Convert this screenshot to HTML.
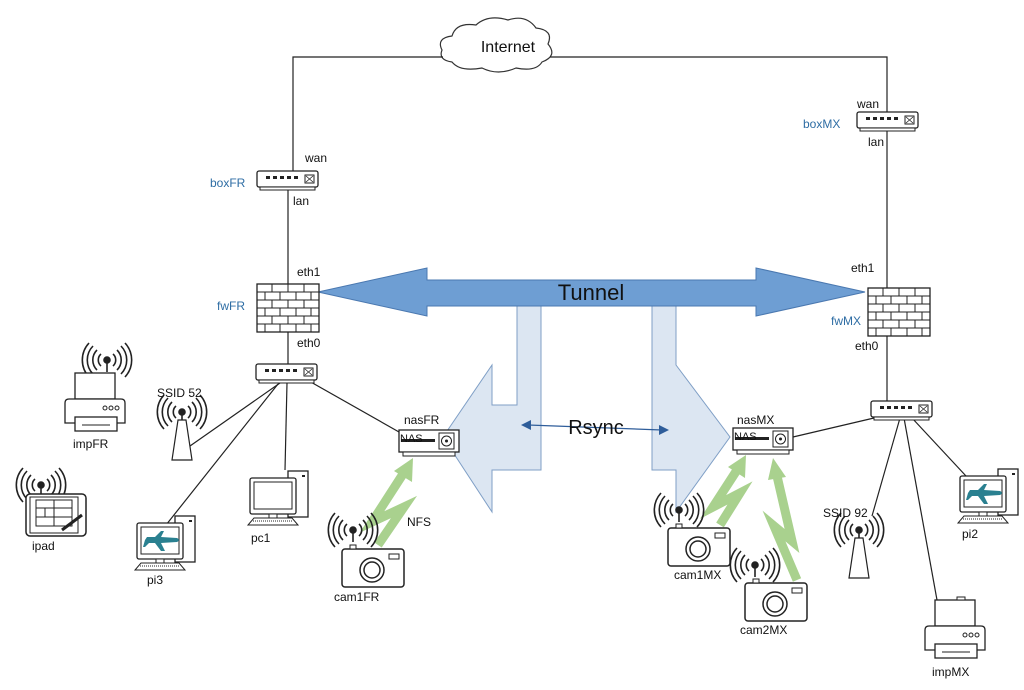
<!DOCTYPE html>
<html><head><meta charset="utf-8"><style>
html,body{margin:0;padding:0;background:#fff}
svg{display:block}
text{font-family:"Liberation Sans","DejaVu Sans",sans-serif;font-size:12px;fill:#111}
.b{fill:#2e6da4}
</style></head><body>
<svg width="1024" height="690" viewBox="0 0 1024 690" xmlns="http://www.w3.org/2000/svg">
<defs>
<g id="sw">
<rect x="0" y="0" width="61" height="16" rx="2" fill="#fff" stroke="#222" stroke-width="1.3"/>
<rect x="3" y="16" width="55" height="3" fill="#fff" stroke="#222" stroke-width="1"/>
<g fill="#222"><rect x="9" y="5" width="4" height="3"/><rect x="16" y="5" width="4" height="3"/><rect x="23" y="5" width="4" height="3"/><rect x="30" y="5" width="4" height="3"/><rect x="37" y="5" width="4" height="3"/></g>
<rect x="48" y="4" width="9" height="8" fill="none" stroke="#222"/><path d="M49 5 L56 11 M49 11 L56 5" stroke="#222" stroke-width="0.8"/>
</g>
<g id="fw">
<rect x="0" y="0" width="62" height="48" fill="#fff" stroke="#222" stroke-width="1.3"/>
<path d="M0 8H62M0 16H62M0 24H62M0 32H62M0 40H62" stroke="#222"/>
<path d="M15 0V8M31 0V8M47 0V8M8 8V16M23 8V16M39 8V16M54 8V16M15 16V24M31 16V24M47 16V24M8 24V32M23 24V32M39 24V32M54 24V32M15 32V40M31 32V40M47 32V40M8 40V48M23 40V48M39 40V48M54 40V48" stroke="#222"/>
</g>
<g id="wifi" fill="none" stroke="#222" stroke-width="1.6">
<path d="M-6 -6 A8 8 0 0 0 -6 6 M6 -6 A8 8 0 0 1 6 6"/>
<path d="M-10 -10 A14 14 0 0 0 -10 10 M10 -10 A14 14 0 0 1 10 10"/>
<path d="M-14 -14 A20 20 0 0 0 -14 14 M14 -14 A20 20 0 0 1 14 14"/>
<path d="M-18 -17 A25 25 0 0 0 -18 17 M18 -17 A25 25 0 0 1 18 17"/>
<circle cx="0" cy="0" r="3" fill="#222"/><path d="M0 0V12"/>
</g>
<g id="cam">
<rect x="0" y="0" width="62" height="38" rx="3" fill="#fff" stroke="#222" stroke-width="1.5"/>
<rect x="47" y="5" width="10" height="5" fill="none" stroke="#222"/>
<circle cx="30" cy="21" r="12" fill="none" stroke="#222" stroke-width="1.5"/>
<circle cx="30" cy="21" r="8" fill="none" stroke="#222" stroke-width="1.5"/>
<rect x="8" y="-4" width="6" height="4" fill="#fff" stroke="#222"/>
</g>
<g id="nas">
<rect x="0" y="0" width="60" height="22" fill="#fff" stroke="#222" stroke-width="1.3"/>
<rect x="4" y="22" width="52" height="4" fill="#fff" stroke="#222"/>
<rect x="40" y="3" width="15" height="16" fill="none" stroke="#222"/>
<circle cx="47.5" cy="11" r="5" fill="none" stroke="#222"/><circle cx="47.5" cy="11" r="1.5" fill="#222"/>
<rect x="2" y="9" width="34" height="3" fill="#222"/>
<text x="1" y="12" style="font-size:11px">NAS</text>
</g>
<g id="comp">
<rect x="38" y="-7" width="20" height="46" fill="#fff" stroke="#222" stroke-width="1.3"/>
<rect x="52" y="-3" width="3" height="2" fill="#222"/>
<rect x="0" y="0" width="46" height="36" rx="2" fill="#fff" stroke="#222" stroke-width="1.3"/>
<rect x="4" y="4" width="38" height="27" fill="#fff" stroke="#222"/>
<rect x="19" y="36" width="8" height="4" fill="#fff" stroke="#222"/>
<path d="M4 40H42L48 47H-2Z" fill="#fff" stroke="#222"/>
<path d="M3 43H43" stroke="#222" stroke-dasharray="1 1"/>
</g>
<g id="plane"><path d="M6 10 L14 10 L20 4 L23 4 L20 10 L36 11 Q40 13 36 15 L20 16 L24 24 L20 24 L14 16 L8 16 L4 20 L2 20 L4 13 Z" fill="#2a8090"/></g>
<g id="printer">
<rect x="10" y="0" width="40" height="26" fill="#fff" stroke="#222" stroke-width="1.3"/>
<path d="M0 30 Q0 26 4 26 H56 Q60 26 60 30 V50 H0Z" fill="#fff" stroke="#222" stroke-width="1.3"/>
<circle cx="40" cy="35" r="2" fill="none" stroke="#222"/><circle cx="46" cy="35" r="2" fill="none" stroke="#222"/><circle cx="52" cy="35" r="2" fill="none" stroke="#222"/>
<rect x="10" y="44" width="42" height="14" fill="#fff" stroke="#222" stroke-width="1.3"/>
<path d="M17 52H45" stroke="#222"/>
</g>
<g id="tower">
<path d="M-4 0 L4 0 L10 40 L-10 40 Z" fill="#fff" stroke="#222" stroke-width="1.2"/>
</g>
</defs>

<path d="M452 62 Q438 60 442 50 Q436 38 452 36 Q456 22 476 25 Q488 14 508 20 Q526 14 536 28 Q554 30 548 44 Q558 56 542 62 Q536 72 516 68 Q498 76 482 68 Q460 72 452 62Z" fill="#fff" stroke="#333" stroke-width="1.2"/>
<text x="508" y="52" text-anchor="middle" style="font-size:16px">Internet</text>

<g stroke="#222" stroke-width="1.2" fill="none">
<path d="M443 57 H293 V172"/>
<path d="M550 57 H887 V112"/>
<path d="M288 188 V284"/>
<path d="M288 332 V365"/>
<path d="M887 130 V288"/>
<path d="M887 335 V401"/>
<path d="M309 381 L399 432"/>
<path d="M280 383 L190 446"/>
<path d="M278 384 L166 525"/>
<path d="M287 383 L285 470"/>
<path d="M874 418 L793 437"/>
<path d="M900 418 L872 516"/>
<path d="M904 418 L937 600"/>
<path d="M912 418 L966 476"/>
</g>

<path d="M517 305 H541 V470 H492 V512 L443 437 L492 365 V405 H517 Z" fill="#dce6f2" stroke="#7f9fc6" stroke-width="1"/>
<path d="M652 305 H676 V365 L730 437 L676 512 V470 H652 Z" fill="#dce6f2" stroke="#7f9fc6" stroke-width="1"/>

<path d="M318 292 L427 268 V280 H756 V268 L865 292 L756 316 V306 H427 V316 Z" fill="#6e9ed3" stroke="#4a78b0" stroke-width="1"/>
<text x="591" y="300" text-anchor="middle" style="font-size:22px">Tunnel</text>

<path d="M528 425 L662 430" stroke="#2e5d9a" stroke-width="1.2"/>
<path d="M521 425 L531 420 L531 430Z" fill="#2e5d9a"/>
<path d="M669 430 L659 425 L659 435Z" fill="#2e5d9a"/>
<text x="596" y="434" text-anchor="middle" style="font-size:20px">Rsync</text>

<use href="#sw" x="257" y="171"/>
<use href="#sw" x="857" y="112"/>
<use href="#sw" x="256" y="364"/>
<use href="#sw" x="871" y="401"/>
<use href="#fw" x="257" y="284"/>
<use href="#fw" x="868" y="288"/>

<text x="305" y="162">wan</text>
<text x="210" y="187" class="b">boxFR</text>
<text x="293" y="205">lan</text>
<text x="297" y="276">eth1</text>
<text x="217" y="310" class="b">fwFR</text>
<text x="297" y="347">eth0</text>
<text x="857" y="108">wan</text>
<text x="803" y="128" class="b">boxMX</text>
<text x="868" y="146">lan</text>
<text x="851" y="272">eth1</text>
<text x="831" y="325" class="b">fwMX</text>
<text x="855" y="350">eth0</text>

<use href="#nas" x="399" y="430"/>
<text x="404" y="424">nasFR</text>
<use href="#nas" x="733" y="428"/>
<text x="737" y="424">nasMX</text>

<!-- green bolts -->
<g fill="none" stroke="#a9d18e" stroke-width="9" stroke-linejoin="miter" stroke-miterlimit="10">
<polyline points="378,545 404,507 372,522 403,474"/>
<polyline points="720,525 740,493 713,507 737,470"/>
<polyline points="797,580 774,526 792,541 777,476"/>
</g>
<g fill="#a9d18e">
<path d="M413 458 L412 482 L394 471Z"/>
<path d="M746 455 L745 478 L728 467Z"/>
<path d="M773 458 L786 477 L768 480Z"/>
</g>
<text x="407" y="526">NFS</text>

<use href="#wifi" x="353" y="530"/>
<use href="#cam" x="342" y="549"/>
<text x="334" y="601">cam1FR</text>
<use href="#wifi" x="679" y="510"/>
<use href="#cam" x="668" y="528"/>
<text x="674" y="579">cam1MX</text>
<use href="#wifi" x="755" y="565"/>
<use href="#cam" x="745" y="583"/>
<text x="740" y="634">cam2MX</text>

<use href="#wifi" x="107" y="360"/>
<use href="#printer" x="65" y="373"/>
<text x="73" y="448">impFR</text>
<use href="#printer" x="925" y="600"/>
<rect x="957" y="597" width="8" height="3" fill="#fff" stroke="#222"/>
<text x="932" y="676">impMX</text>

<use href="#wifi" x="41" y="485"/>
<rect x="26" y="494" width="60" height="42" rx="4" fill="#fff" stroke="#222" stroke-width="1.5"/>
<rect x="30" y="497" width="48" height="36" fill="#fff" stroke="#222"/>
<path d="M36 500H72V526H36Z M36 508H72 M36 517H72 M54 500V526 M45 508V517" fill="none" stroke="#222"/>
<path d="M62 530 L82 515" stroke="#222" stroke-width="3"/>
<text x="32" y="550">ipad</text>

<use href="#wifi" x="182" y="412"/>
<use href="#tower" x="182" y="420"/>
<text x="157" y="397">SSID 52</text>
<use href="#wifi" x="859" y="530"/>
<use href="#tower" x="859" y="538"/>
<text x="823" y="517">SSID 92</text>

<use href="#comp" x="137" y="523"/>
<use href="#plane" x="141" y="527"/>
<text x="147" y="584">pi3</text>
<use href="#comp" x="250" y="478"/>
<text x="251" y="542">pc1</text>
<use href="#comp" x="960" y="476"/>
<use href="#plane" x="964" y="480"/>
<text x="962" y="538">pi2</text>
</svg>
</body></html>
